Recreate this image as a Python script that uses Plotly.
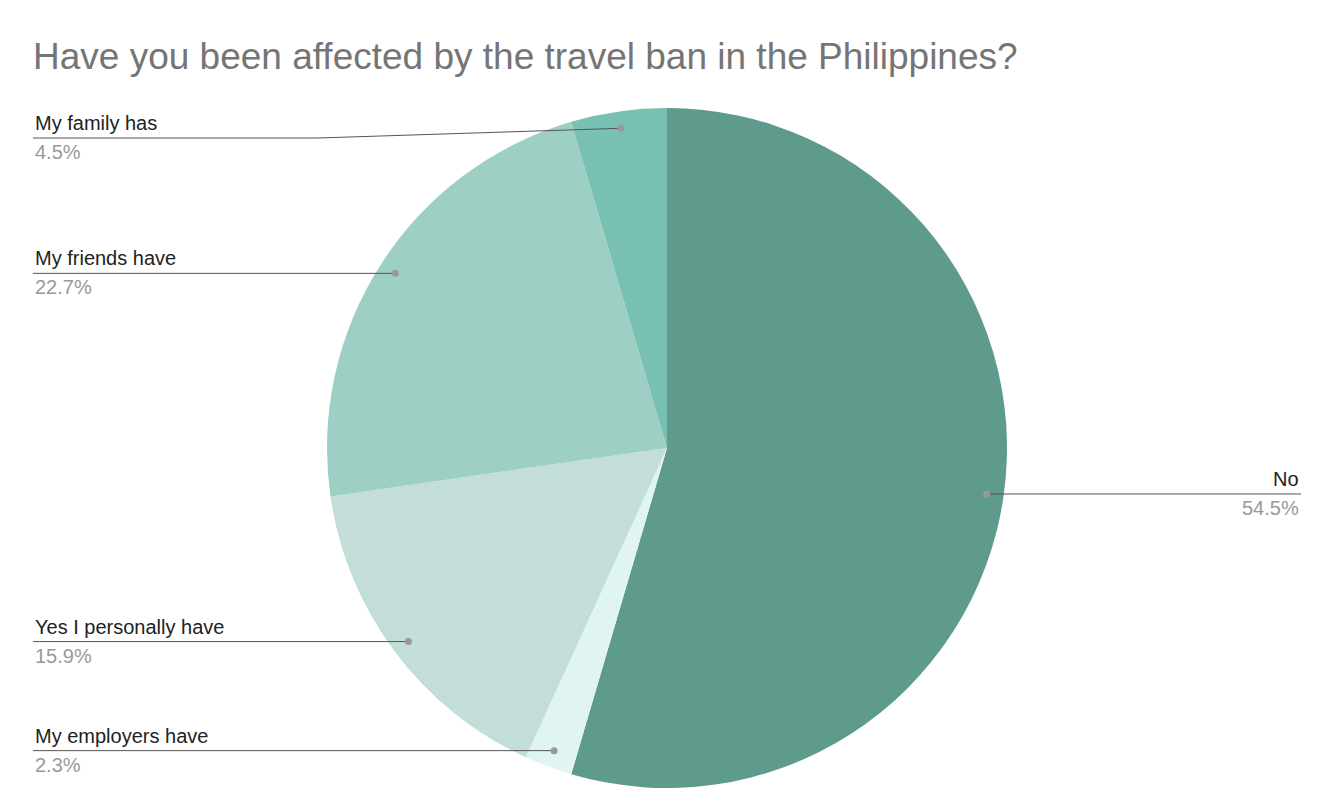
import math
import plotly.graph_objects as go

# survey answers, clockwise from 12 o'clock
labels = ["No", "My employers have", "Yes I personally have", "My friends have", "My family has"]
counts = [24, 1, 7, 10, 2]
colors = ["#5f9b8c", "#e0f4f1", "#c3ded9", "#9dcfc4", "#77c0b2"]

W, H = 1332, 806
cx, cy, R = 659, 440, 340

fig = go.Figure(go.Pie(
    labels=labels, values=counts, sort=False, direction="clockwise", rotation=0,
    marker=dict(colors=colors, line=dict(width=0)), textinfo="none",
    domain=dict(x=[(cx - R) / W, (cx + R) / W], y=[1 - (cy + R) / H, 1 - (cy - R) / H]),
    showlegend=False,
))

def px(x): return x / W
def py(y): return 1 - y / H

total = sum(counts)
shapes, annos = [], []
cum = 0
for lab, c in zip(labels, counts):
    mid = (cum + c / 2) / total * 2 * math.pi
    cum += c
    dx = cx + 0.95 * R * math.sin(mid)
    dy = cy - 0.95 * R * math.cos(mid)
    ly = max(dy, 130)
    right = math.sin(mid) > 0
    ex = 1293 if right else 25
    if ly != dy:
        kx = 310
        shapes.append(dict(type="line", xref="paper", yref="paper", x0=px(dx), y0=py(dy), x1=px(kx), y1=py(ly), line=dict(color="#555", width=1)))
        shapes.append(dict(type="line", xref="paper", yref="paper", x0=px(kx), y0=py(ly), x1=px(ex), y1=py(ly), line=dict(color="#555", width=1)))
    else:
        shapes.append(dict(type="line", xref="paper", yref="paper", x0=px(dx), y0=py(dy), x1=px(ex), y1=py(ly), line=dict(color="#555", width=1)))
    shapes.append(dict(type="circle", xref="paper", yref="paper", x0=px(dx - 3.5), x1=px(dx + 3.5), y0=py(dy + 3.5), y1=py(dy - 3.5), fillcolor="#999", line=dict(width=0)))
    xa = "right" if right else "left"
    annos.append(dict(text=lab, x=px(ex), y=py(ly - 2), xref="paper", yref="paper", xanchor=xa, yanchor="bottom", showarrow=False, font=dict(size=20, color="#222")))
    annos.append(dict(text=f"{100 * c / total:.1f}%", x=px(ex), y=py(ly + 1), xref="paper", yref="paper", xanchor=xa, yanchor="top", showarrow=False, font=dict(size=20, color="#999")))

fig.update_layout(
    width=W, height=H, margin=dict(l=0, r=0, t=0, b=0),
    paper_bgcolor="white", font=dict(family="Liberation Sans, Arial, sans-serif"),
    title=dict(text="Have you been affected by the travel ban in the Philippines?", x=px(25), xanchor="left", y=py(48), yanchor="middle", font=dict(size=37, color="#757575")),
    shapes=shapes, annotations=annos,
)
fig.write_html("out.html")
